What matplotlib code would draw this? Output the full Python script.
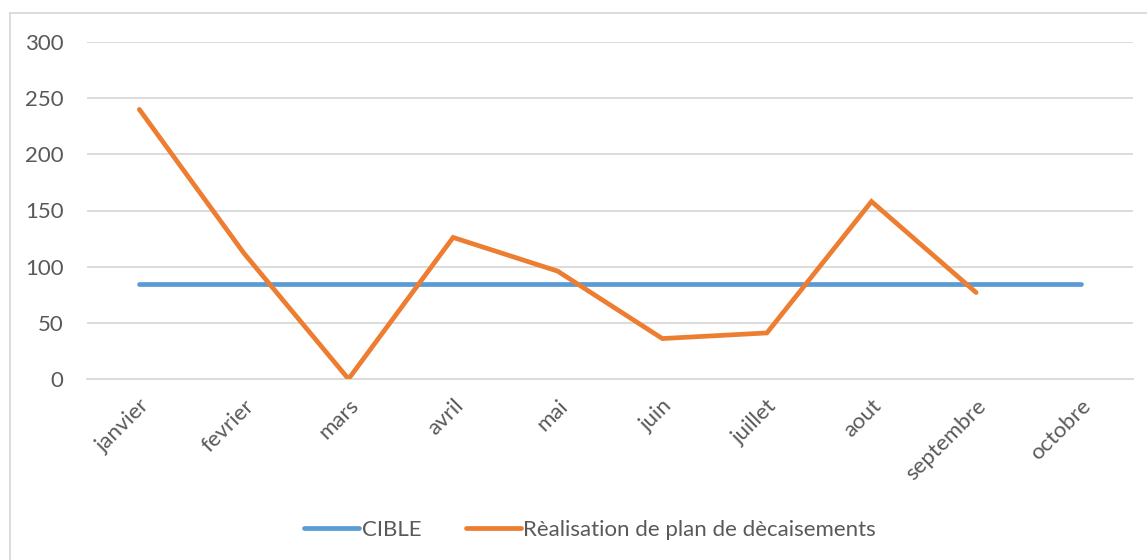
import numpy as np
import matplotlib
matplotlib.use("Agg")
import matplotlib.pyplot as plt
from matplotlib.lines import Line2D

mois = ["janvier", "fevrier", "mars", "avril", "mai", "juin",
        "juillet", "aout", "septembre", "octobre"]
cible = [85, 85, 85, 85, 85, 85, 85, 85, 85, 85]
realisation = [240, 112, 0, 126, 96, 36, 41, 158, 77, np.nan]

plt.rcParams["font.family"] = ["Lato", "DejaVu Sans"]
grey = "#595959"

fig = plt.figure(figsize=(11.47, 5.6), dpi=100)
ax = fig.add_axes([87 / 1147, 1 - 379 / 560, (1133 - 87) / 1147, (379 - 42) / 560])

x = np.arange(len(mois))
ax.plot(x, cible, color="#5B9BD5", lw=3.4, solid_capstyle="round", label="CIBLE", zorder=3)
ax.plot(x, realisation, color="#ED7D31", lw=3.4, solid_capstyle="round",
        solid_joinstyle="miter", label="Rèalisation de plan de dècaisements", zorder=4)

ax.set_xlim(-0.5, len(mois) - 0.5)
ax.set_ylim(0, 300)
ax.set_yticks(np.arange(0, 301, 50))
ax.yaxis.grid(True, color="#D9D9D9", lw=1.3)
ax.set_axisbelow(True)
for s in ax.spines.values():
    s.set_visible(False)
ax.spines["bottom"].set_visible(True)
ax.spines["bottom"].set_color("#D9D9D9")
ax.spines["bottom"].set_linewidth(1.3)
ax.tick_params(length=0, labelsize=16, labelcolor=grey)
ax.tick_params(axis="y", pad=17)
ax.set_xticks(x)
ax.set_xticklabels(mois, rotation=45, ha="right", va="top", rotation_mode="anchor")
ax.tick_params(axis="x", pad=12)

# legend below the plot, no frame
handles = [Line2D([], [], color="#5B9BD5", lw=3.4, solid_capstyle="round"),
           Line2D([], [], color="#ED7D31", lw=3.4, solid_capstyle="round")]
fig.legend(handles, ["CIBLE", "Rèalisation de plan de dècaisements"],
           loc="center", bbox_to_anchor=(590 / 1147, 1 - 530 / 560), ncol=2, frameon=False,
           fontsize=16, labelcolor=grey, handlelength=2.5, handletextpad=0.1,
           columnspacing=2.0)

# chart area border (top and left edges visible)
fig.add_artist(Line2D([10 / 1147, 10 / 1147], [0, 1 - 13 / 560], transform=fig.transFigure,
                      color="#D9D9D9", lw=1.3))
fig.add_artist(Line2D([10 / 1147, 1], [1 - 13 / 560, 1 - 13 / 560], transform=fig.transFigure,
                      color="#D9D9D9", lw=1.3))

fig.savefig("out.png", dpi=100)
